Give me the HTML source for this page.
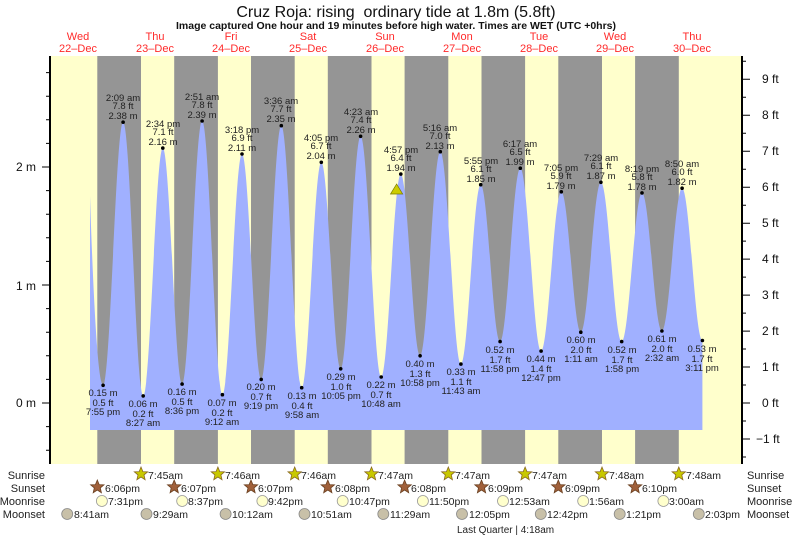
<!DOCTYPE html>
<html><head><meta charset="utf-8"><style>
html,body{margin:0;padding:0;background:#fff}
svg{display:block;font-family:"Liberation Sans",sans-serif}
</style></head><body>
<svg width="793" height="537" viewBox="0 0 793 537" xmlns="http://www.w3.org/2000/svg" xmlns:xlink="http://www.w3.org/1999/xlink">
<defs>
<polygon id="st" points="0,-7 1.9,-2.4 6.7,-2.2 3,0.9 4.1,5.7 0,3 -4.1,5.7 -3,0.9 -6.7,-2.2 -1.9,-2.4"/>
</defs>
<rect x="50" y="56" width="692" height="408" fill="#ffffcc"/>
<g fill="#959595">
<rect x="97.3" y="56" width="43.7" height="408"/>
<rect x="174.2" y="56" width="43.7" height="408"/>
<rect x="251.0" y="56" width="43.7" height="408"/>
<rect x="327.8" y="56" width="43.7" height="408"/>
<rect x="404.6" y="56" width="43.7" height="408"/>
<rect x="481.5" y="56" width="43.6" height="408"/>
<rect x="558.3" y="56" width="43.7" height="408"/>
<rect x="635.1" y="56" width="43.7" height="408"/>
</g>
<path fill="#a0b0ff" d="M90,430 L90,196 C92,260 97,385.3 103.1,385.3
C110.38,385.3 115.82,122.2 123.1,122.2
C130.42,122.2 135.88,395.9 143.2,395.9
C150.34,395.9 155.66,148.1 162.8,148.1
C169.83,148.1 175.07,384.1 182.1,384.1
C189.38,384.1 194.82,121 202.1,121
C209.49,121 215.01,394.7 222.4,394.7
C229.54,394.7 234.86,154 242,154
C248.99,154 254.21,379.4 261.2,379.4
C268.52,379.4 273.98,125.7 281.3,125.7
C288.73,125.7 294.27,387.7 301.7,387.7
C308.84,387.7 314.16,162.3 321.3,162.3
C328.37,162.3 333.63,368.8 340.7,368.8
C347.95,368.8 353.35,136.3 360.6,136.3
C368.1,136.3 373.7,377 381.2,377
C388.34,377 393.66,174.1 400.8,174.1
C407.83,174.1 413.07,355.8 420.1,355.8
C427.46,355.8 432.94,151.7 440.3,151.7
C447.8,151.7 453.4,364.1 460.9,364.1
C468.11,364.1 473.49,184.7 480.7,184.7
C487.77,184.7 493.03,341.6 500.1,341.6
C507.46,341.6 512.94,168.2 520.3,168.2
C527.88,168.2 533.52,351.1 541.1,351.1
C548.46,351.1 553.94,191.8 561.3,191.8
C568.4,191.8 573.7,332.2 580.8,332.2
C588.12,332.2 593.58,182.3 600.9,182.3
C608.48,182.3 614.12,341.6 621.7,341.6
C629.09,341.6 634.61,192.9 642,192.9
C649.25,192.9 654.65,331 661.9,331
C669.26,331 674.74,188.2 682.1,188.2
C689.49,188.2 695.01,340.5 702.4,340.5
L702.4,430 Z"/>
<path stroke="#000" stroke-width="1" fill="none" d="
M46,450.2H50 M46,426.6H50 M42,403H50 M46,379.4H50 M46,355.8H50 M46,332.2H50 M46,308.6H50 M42,285H50 M46,261.4H50 M46,237.8H50 M46,214.2H50 M46,190.6H50 M42,167H50 M46,143.4H50 M46,119.8H50 M46,96.2H50 M46,72.6H50
M742,457H746 M742,439H750 M742,421H746 M742,403H750 M742,385H746 M742,367H750 M742,349H746 M742,331.1H750 M742,313.1H746 M742,295.1H750 M742,277.1H746 M742,259.1H750 M742,241.1H746 M742,223.2H750 M742,205.2H746 M742,187.2H750 M742,169.2H746 M742,151.2H750 M742,133.2H746 M742,115.2H750 M742,97.3H746 M742,79.3H750 M742,61.3H746"/>
<line x1="50" y1="56" x2="50" y2="464" stroke="#000" stroke-width="2"/>
<line x1="742" y1="56" x2="742" y2="464" stroke="#000" stroke-width="2"/>
<text x="396" y="17" font-size="16" text-anchor="middle" fill="#111">Cruz Roja: rising &#160;ordinary tide at 1.8m (5.8ft)</text>
<text x="396" y="29" font-size="10.5" font-weight="bold" text-anchor="middle" fill="#111">Image captured One hour and 19 minutes before high water. Times are WET (UTC +0hrs)</text>
<g font-size="11" fill="#ff2a2a" text-anchor="middle">
<text x="78" y="40">Wed</text><text x="78" y="52">22–Dec</text>
<text x="155" y="40">Thu</text><text x="155" y="52">23–Dec</text>
<text x="231" y="40">Fri</text><text x="231" y="52">24–Dec</text>
<text x="308" y="40">Sat</text><text x="308" y="52">25–Dec</text>
<text x="385" y="40">Sun</text><text x="385" y="52">26–Dec</text>
<text x="462" y="40">Mon</text><text x="462" y="52">27–Dec</text>
<text x="539" y="40">Tue</text><text x="539" y="52">28–Dec</text>
<text x="615" y="40">Wed</text><text x="615" y="52">29–Dec</text>
<text x="692" y="40">Thu</text><text x="692" y="52">30–Dec</text>
</g>
<g font-size="12" fill="#111" text-anchor="end">
<text x="36" y="171">2 m</text><text x="36" y="290">1 m</text><text x="36" y="407">0 m</text>
</g>
<g font-size="12" fill="#111">
<text x="762" y="83">9 ft</text><text x="762" y="119">8 ft</text><text x="762" y="155">7 ft</text>
<text x="762" y="191">6 ft</text><text x="762" y="227">5 ft</text><text x="762" y="263">4 ft</text>
<text x="762" y="299">3 ft</text><text x="762" y="335">2 ft</text><text x="762" y="371">1 ft</text>
<text x="762" y="407">0 ft</text><text x="756" y="443">−1 ft</text>
</g>
<polygon points="396.6,184 390.5,194 402.7,194" fill="#cccc00" stroke="#777700" stroke-width="0.7"/>
<g fill="#000">
<circle cx="103.1" cy="385.3" r="1.8"/><circle cx="123.1" cy="122.2" r="1.8"/><circle cx="143.2" cy="395.9" r="1.8"/><circle cx="162.8" cy="148.1" r="1.8"/>
<circle cx="182.1" cy="384.1" r="1.8"/><circle cx="202.1" cy="121" r="1.8"/><circle cx="222.4" cy="394.7" r="1.8"/><circle cx="242" cy="154" r="1.8"/>
<circle cx="261.2" cy="379.4" r="1.8"/><circle cx="281.3" cy="125.7" r="1.8"/><circle cx="301.7" cy="387.7" r="1.8"/><circle cx="321.3" cy="162.3" r="1.8"/>
<circle cx="340.7" cy="368.8" r="1.8"/><circle cx="360.6" cy="136.3" r="1.8"/><circle cx="381.2" cy="377" r="1.8"/><circle cx="400.8" cy="174.1" r="1.8"/>
<circle cx="420.1" cy="355.8" r="1.8"/><circle cx="440.3" cy="151.7" r="1.8"/><circle cx="460.9" cy="364.1" r="1.8"/><circle cx="480.7" cy="184.7" r="1.8"/>
<circle cx="500.1" cy="341.6" r="1.8"/><circle cx="520.3" cy="168.2" r="1.8"/><circle cx="541.1" cy="351.1" r="1.8"/><circle cx="561.3" cy="191.8" r="1.8"/>
<circle cx="580.8" cy="332.2" r="1.8"/><circle cx="600.9" cy="182.3" r="1.8"/><circle cx="621.7" cy="341.6" r="1.8"/><circle cx="642" cy="192.9" r="1.8"/>
<circle cx="661.9" cy="331" r="1.8"/><circle cx="682.1" cy="188.2" r="1.8"/><circle cx="702.4" cy="340.5" r="1.8"/>
</g>
<g font-size="9.5" fill="#222" text-anchor="middle">
<text x="103" y="396">0.15 m</text><text x="103" y="406">0.5 ft</text><text x="103" y="415">7:55 pm</text>
<text x="123" y="101">2:09 am</text><text x="123" y="109">7.8 ft</text><text x="123" y="119">2.38 m</text>
<text x="143" y="407">0.06 m</text><text x="143" y="417">0.2 ft</text><text x="143" y="426">8:27 am</text>
<text x="163" y="127">2:34 pm</text><text x="163" y="135">7.1 ft</text><text x="163" y="145">2.16 m</text>
<text x="182" y="395">0.16 m</text><text x="182" y="405">0.5 ft</text><text x="182" y="414">8:36 pm</text>
<text x="202" y="100">2:51 am</text><text x="202" y="108">7.8 ft</text><text x="202" y="118">2.39 m</text>
<text x="222" y="406">0.07 m</text><text x="222" y="416">0.2 ft</text><text x="222" y="425">9:12 am</text>
<text x="242" y="133">3:18 pm</text><text x="242" y="141">6.9 ft</text><text x="242" y="151">2.11 m</text>
<text x="261" y="390">0.20 m</text><text x="261" y="400">0.7 ft</text><text x="261" y="409">9:19 pm</text>
<text x="281" y="104">3:36 am</text><text x="281" y="112">7.7 ft</text><text x="281" y="122">2.35 m</text>
<text x="302" y="399">0.13 m</text><text x="302" y="409">0.4 ft</text><text x="302" y="418">9:58 am</text>
<text x="321" y="141">4:05 pm</text><text x="321" y="149">6.7 ft</text><text x="321" y="159">2.04 m</text>
<text x="341" y="380">0.29 m</text><text x="341" y="390">1.0 ft</text><text x="341" y="399">10:05 pm</text>
<text x="361" y="115">4:23 am</text><text x="361" y="123">7.4 ft</text><text x="361" y="133">2.26 m</text>
<text x="381" y="388">0.22 m</text><text x="381" y="398">0.7 ft</text><text x="381" y="407">10:48 am</text>
<text x="401" y="153">4:57 pm</text><text x="401" y="161">6.4 ft</text><text x="401" y="171">1.94 m</text>
<text x="420" y="367">0.40 m</text><text x="420" y="377">1.3 ft</text><text x="420" y="386">10:58 pm</text>
<text x="440" y="131">5:16 am</text><text x="440" y="139">7.0 ft</text><text x="440" y="149">2.13 m</text>
<text x="461" y="375">0.33 m</text><text x="461" y="385">1.1 ft</text><text x="461" y="394">11:43 am</text>
<text x="481" y="164">5:55 pm</text><text x="481" y="172">6.1 ft</text><text x="481" y="182">1.85 m</text>
<text x="500" y="353">0.52 m</text><text x="500" y="363">1.7 ft</text><text x="500" y="372">11:58 pm</text>
<text x="520" y="147">6:17 am</text><text x="520" y="155">6.5 ft</text><text x="520" y="165">1.99 m</text>
<text x="541" y="362">0.44 m</text><text x="541" y="372">1.4 ft</text><text x="541" y="381">12:47 pm</text>
<text x="561" y="171">7:05 pm</text><text x="561" y="179">5.9 ft</text><text x="561" y="189">1.79 m</text>
<text x="581" y="343">0.60 m</text><text x="581" y="353">2.0 ft</text><text x="581" y="362">1:11 am</text>
<text x="601" y="161">7:29 am</text><text x="601" y="169">6.1 ft</text><text x="601" y="179">1.87 m</text>
<text x="622" y="353">0.52 m</text><text x="622" y="363">1.7 ft</text><text x="622" y="372">1:58 pm</text>
<text x="642" y="172">8:19 pm</text><text x="642" y="180">5.8 ft</text><text x="642" y="190">1.78 m</text>
<text x="662" y="342">0.61 m</text><text x="662" y="352">2.0 ft</text><text x="662" y="361">2:32 am</text>
<text x="682" y="167">8:50 am</text><text x="682" y="175">6.0 ft</text><text x="682" y="185">1.82 m</text>
<text x="702" y="352">0.53 m</text><text x="702" y="362">1.7 ft</text><text x="702" y="371">3:11 pm</text>
</g>
<g font-size="11" fill="#222" text-anchor="end">
<text x="45" y="479">Sunrise</text><text x="45" y="492">Sunset</text><text x="45" y="505">Moonrise</text><text x="45" y="518">Moonset</text>
</g>
<g font-size="11" fill="#222">
<text x="747" y="479">Sunrise</text><text x="747" y="492">Sunset</text><text x="747" y="505">Moonrise</text><text x="747" y="518">Moonset</text>
</g>
<g fill="#c8c800" stroke="#8a6a20" stroke-width="0.8">
<use xlink:href="#st" x="141" y="474"/><use xlink:href="#st" x="217.9" y="474"/><use xlink:href="#st" x="294.7" y="474"/><use xlink:href="#st" x="371.5" y="474"/>
<use xlink:href="#st" x="448.3" y="474"/><use xlink:href="#st" x="525.1" y="474"/><use xlink:href="#st" x="602" y="474"/><use xlink:href="#st" x="678.8" y="474"/>
</g>
<g fill="#a0603a" stroke="#6a4020" stroke-width="0.8">
<use xlink:href="#st" x="97.3" y="487"/><use xlink:href="#st" x="174.2" y="487"/><use xlink:href="#st" x="251" y="487"/><use xlink:href="#st" x="327.8" y="487"/>
<use xlink:href="#st" x="404.6" y="487"/><use xlink:href="#st" x="481.5" y="487"/><use xlink:href="#st" x="558.3" y="487"/><use xlink:href="#st" x="635.1" y="487"/>
</g>
<g fill="#ffffcc" stroke="#999" stroke-width="0.8">
<circle cx="101.9" cy="501" r="5.5"/><circle cx="182.2" cy="501" r="5.5"/><circle cx="262.4" cy="501" r="5.5"/><circle cx="342.7" cy="501" r="5.5"/>
<circle cx="422.9" cy="501" r="5.5"/><circle cx="503" cy="501" r="5.5"/><circle cx="583.2" cy="501" r="5.5"/><circle cx="663.4" cy="501" r="5.5"/>
</g>
<g fill="#c8c0a8" stroke="#888" stroke-width="0.8">
<circle cx="67.2" cy="514" r="5.5"/><circle cx="146.5" cy="514" r="5.5"/><circle cx="225.6" cy="514" r="5.5"/><circle cx="304.5" cy="514" r="5.5"/>
<circle cx="383.3" cy="514" r="5.5"/><circle cx="462" cy="514" r="5.5"/><circle cx="540.8" cy="514" r="5.5"/><circle cx="619.7" cy="514" r="5.5"/><circle cx="698.8" cy="514" r="5.5"/>
</g>
<g font-size="10.5" fill="#222">
<text x="148" y="479">7:45am</text><text x="225" y="479">7:46am</text><text x="301" y="479">7:46am</text><text x="378" y="479">7:47am</text>
<text x="455" y="479">7:47am</text><text x="532" y="479">7:47am</text><text x="609" y="479">7:48am</text><text x="686" y="479">7:48am</text>
<text x="105" y="492">6:06pm</text><text x="181" y="492">6:07pm</text><text x="258" y="492">6:07pm</text><text x="335" y="492">6:08pm</text>
<text x="411" y="492">6:08pm</text><text x="488" y="492">6:09pm</text><text x="565" y="492">6:09pm</text><text x="642" y="492">6:10pm</text>
<text x="108" y="505">7:31pm</text><text x="188" y="505">8:37pm</text><text x="268" y="505">9:42pm</text><text x="349" y="505">10:47pm</text>
<text x="429" y="505">11:50pm</text><text x="509" y="505">12:53am</text><text x="589" y="505">1:56am</text><text x="669" y="505">3:00am</text>
<text x="74" y="518">8:41am</text><text x="153" y="518">9:29am</text><text x="232" y="518">10:12am</text><text x="311" y="518">10:51am</text>
<text x="390" y="518">11:29am</text><text x="469" y="518">12:05pm</text><text x="547" y="518">12:42pm</text><text x="626" y="518">1:21pm</text><text x="705" y="518">2:03pm</text>
</g>
<text x="457" y="533" font-size="10" fill="#222">Last Quarter | 4:18am</text>
</svg>
</body></html>
